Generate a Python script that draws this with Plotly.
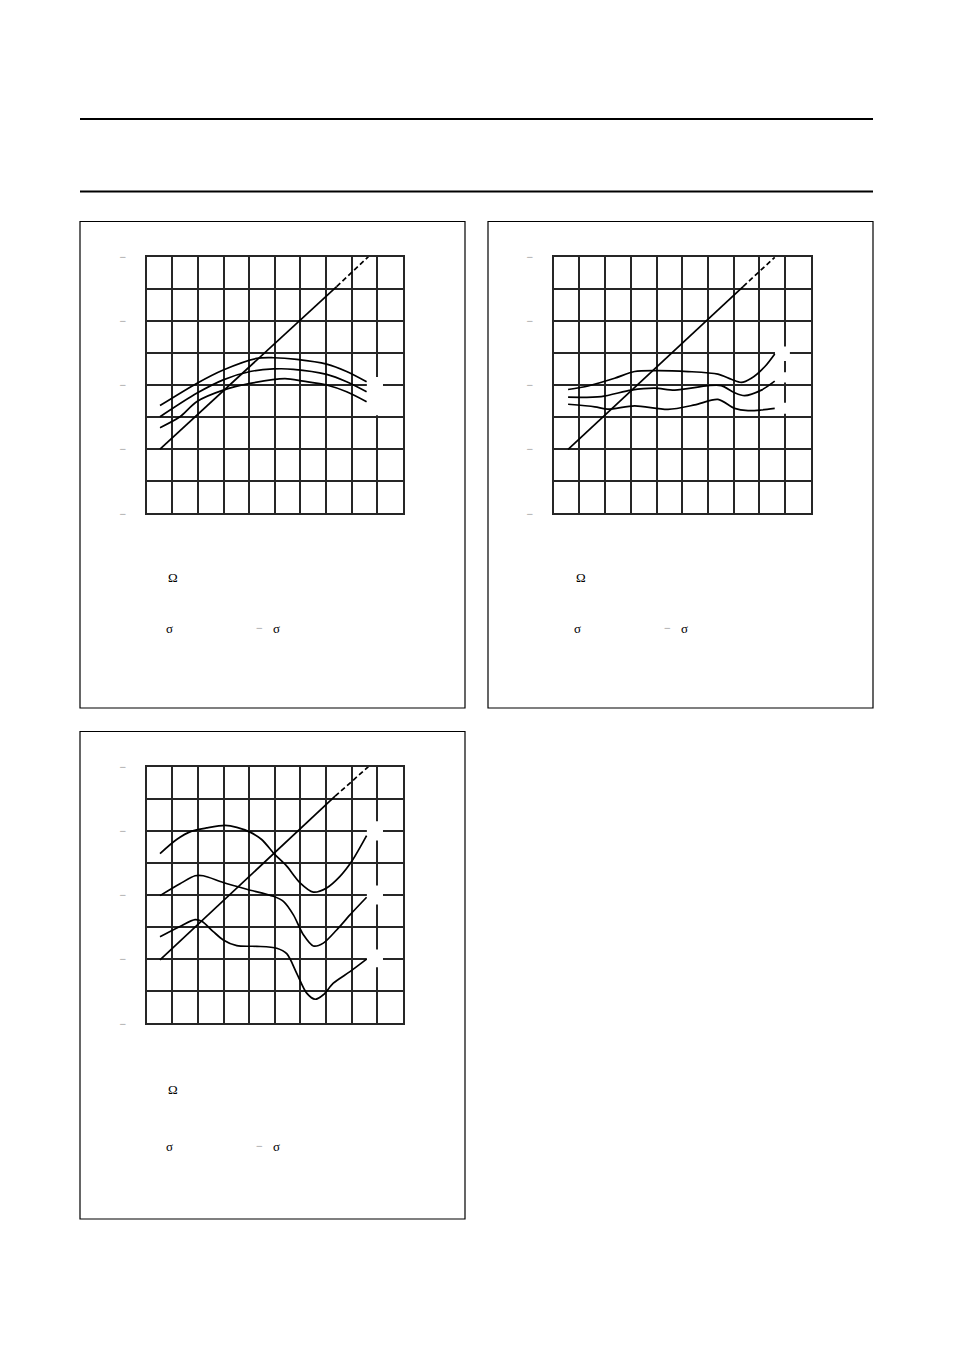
import plotly.graph_objects as go

W, H = 954, 1350

# ---------------- data (grid units: x 0..10, y 0..8) ----------------
# Panel 1
p1_diag_solid_x = [0.52, 7.42]
p1_diag_solid_y = [2.00, 7.07]
p1_diag_dash_x = [7.42, 8.66]
p1_diag_dash_y = [7.07, 8.00]
p1_top_x = [0.52, 1.95, 2.99, 4.30, 4.95, 5.86, 7.03, 7.81, 8.59]
p1_top_y = [3.36, 4.05, 4.47, 4.83, 4.85, 4.80, 4.65, 4.42, 4.10]
p1_mid_x = [0.52, 1.95, 2.99, 4.04, 4.95, 5.73, 7.03, 7.81, 8.59]
p1_mid_y = [3.01, 3.74, 4.16, 4.42, 4.50, 4.49, 4.33, 4.10, 3.79]
p1_bot_x = [0.52, 1.30, 1.95, 2.99, 4.04, 5.40, 6.12, 7.03, 7.81, 8.59]
p1_bot_y = [2.67, 3.01, 3.48, 3.84, 4.05, 4.20, 4.12, 4.00, 3.79, 3.48]

# Panel 2
p2_diag_solid_x = [0.56, 7.37]
p2_diag_solid_y = [1.99, 7.07]
p2_diag_dash_x = [7.37, 8.60]
p2_diag_dash_y = [7.07, 7.98]
p2_top_x = [0.56, 1.34, 2.37, 3.15, 3.93, 5.23, 6.39, 6.91, 7.30, 7.69, 8.21, 8.60]
p2_top_y = [3.86, 3.97, 4.21, 4.42, 4.45, 4.42, 4.34, 4.18, 4.08, 4.21, 4.57, 4.97]
p2_mid_x = [0.56, 1.85, 3.02, 3.93, 4.71, 6.01, 6.52, 7.04, 7.43, 8.08, 8.60]
p2_mid_y = [3.62, 3.64, 3.84, 3.90, 3.84, 3.98, 3.98, 3.76, 3.67, 3.84, 4.12]
p2_bot_x = [0.56, 1.60, 2.11, 3.15, 4.45, 5.49, 6.39, 7.04, 7.56, 8.08, 8.60]
p2_bot_y = [3.40, 3.32, 3.25, 3.35, 3.24, 3.38, 3.55, 3.27, 3.20, 3.22, 3.27]

# Panel 3
p3_diag_solid_x = [0.52, 7.36]
p3_diag_solid_y = [1.98, 7.08]
p3_diag_dash_x = [7.36, 8.66]
p3_diag_dash_y = [7.08, 8.00]
p3_top_x = [0.52, 1.17, 1.76, 2.34, 3.06, 3.52, 4.04, 4.49, 5.01, 5.47, 5.99, 6.51, 7.03, 7.55, 8.01, 8.59]
p3_top_y = [5.29, 5.73, 5.99, 6.09, 6.17, 6.11, 5.96, 5.73, 5.26, 4.90, 4.38, 4.09, 4.22, 4.58, 5.05, 5.85]
p3_mid_x = [0.52, 1.30, 1.89, 2.21, 2.99, 3.91, 4.95, 5.34, 5.73, 6.12, 6.51, 6.90, 7.42, 7.94, 8.59]
p3_mid_y = [3.98, 4.35, 4.60, 4.60, 4.39, 4.18, 3.96, 3.80, 3.38, 2.76, 2.41, 2.50, 2.91, 3.38, 3.93]
p3_bot_x = [0.52, 1.30, 1.89, 2.15, 2.60, 2.99, 3.52, 4.30, 5.08, 5.47, 5.86, 6.25, 6.58, 6.90, 7.29, 7.94, 8.59]
p3_bot_y = [2.70, 3.02, 3.23, 3.18, 2.86, 2.60, 2.42, 2.40, 2.34, 2.17, 1.56, 0.94, 0.75, 0.89, 1.25, 1.61, 2.00]

y_tickvals = [0, 1, 2, 3, 4, 5, 6, 7, 8]
y_ticktext = ["\u2212", "", "\u2212", "", "\u2212", "", "\u2212", "", "\u2212"]

# label boxes (white patches at curve ends): (x0, x1, y0, y1) in grid units
p1_boxes = [(8.6, 9.23, 3.06, 4.25)]
p2_boxes = [(8.61, 9.19, 4.75, 5.2), (8.61, 9.19, 4.08, 4.4), (8.61, 9.19, 3.1, 3.45)]
p3_boxes = [(8.6, 9.23, 5.7, 6.3), (8.6, 9.23, 3.7, 4.3), (8.6, 9.23, 1.75, 2.3)]

# ---------------- layout helpers ----------------
def px_x(p):
    return p / W

def px_y(p):
    return 1 - p / H

panels = [
    # (axis suffix, x_left_px, x_right_px, y_top_px, y_bot_px)
    ("", 146.7, 402.7, 256.7, 513.3),
    ("2", 553.7, 810.7, 256.7, 513.3),
    ("3", 146.7, 402.7, 766.7, 1023.3),
]

fig = go.Figure()

line_w = 1.7
data_sets = [
    (p1_diag_solid_x, p1_diag_solid_y, p1_diag_dash_x, p1_diag_dash_y,
     [(p1_top_x, p1_top_y), (p1_mid_x, p1_mid_y), (p1_bot_x, p1_bot_y)]),
    (p2_diag_solid_x, p2_diag_solid_y, p2_diag_dash_x, p2_diag_dash_y,
     [(p2_top_x, p2_top_y), (p2_mid_x, p2_mid_y), (p2_bot_x, p2_bot_y)]),
    (p3_diag_solid_x, p3_diag_solid_y, p3_diag_dash_x, p3_diag_dash_y,
     [(p3_top_x, p3_top_y), (p3_mid_x, p3_mid_y), (p3_bot_x, p3_bot_y)]),
]

for (suf, xl, xr, yt, yb), (dsx, dsy, ddx, ddy, curves) in zip(panels, data_sets):
    xa = "x" + suf
    ya = "y" + suf
    fig.add_trace(go.Scatter(x=dsx, y=dsy, mode="lines", xaxis=xa, yaxis=ya,
                             line=dict(color="black", width=line_w), showlegend=False,
                             hoverinfo="skip"))
    fig.add_trace(go.Scatter(x=ddx, y=ddy, mode="lines", xaxis=xa, yaxis=ya,
                             line=dict(color="black", width=line_w, dash="5px,3px"),
                             showlegend=False, hoverinfo="skip"))
    for cx, cy in curves:
        fig.add_trace(go.Scatter(x=cx, y=cy, mode="lines", xaxis=xa, yaxis=ya,
                                 line=dict(color="black", width=line_w, shape="spline",
                                           smoothing=0.8),
                                 showlegend=False, hoverinfo="skip"))
    axis_common = dict(showgrid=True, gridcolor="#262626", gridwidth=2,
                       showline=True, mirror=True, linecolor="#262626", linewidth=2,
                       zeroline=False, ticks="", fixedrange=True, automargin=False)
    fig.update_layout(**{
        ("xaxis" + suf): dict(domain=[px_x(xl), px_x(xr)], range=[0, 10], dtick=1,
                              showticklabels=False, anchor=ya, **axis_common),
        ("yaxis" + suf): dict(domain=[px_y(yb), px_y(yt)], range=[0, 8],
                              tickvals=y_tickvals, ticktext=y_ticktext,
                              tickfont=dict(color="#8c8c8c", size=12,
                                            family="Liberation Serif"),
                              ticklabelstandoff=16, anchor=xa, **axis_common),
    })

shapes = []
# white label patches
for suf, boxes in (("", p1_boxes), ("2", p2_boxes), ("3", p3_boxes)):
    for x0, x1, y0, y1 in boxes:
        shapes.append(dict(type="rect", xref="x" + suf, yref="y" + suf,
                           x0=x0, x1=x1, y0=y0, y1=y1,
                           fillcolor="white", line=dict(width=0), layer="between"))

# panel frames
for x0, x1, y0, y1 in ((80, 465, 221.5, 708), (488, 873, 221.5, 708), (80, 465, 731.5, 1219)):
    shapes.append(dict(type="rect", xref="paper", yref="paper",
                       x0=px_x(x0), x1=px_x(x1), y0=px_y(y1), y1=px_y(y0),
                       line=dict(color="black", width=1.2), fillcolor="rgba(0,0,0,0)"))
# header rules
for yy in (119, 191.5):
    shapes.append(dict(type="line", xref="paper", yref="paper",
                       x0=px_x(80), x1=px_x(873), y0=px_y(yy), y1=px_y(yy),
                       line=dict(color="black", width=2)))

annotations = []
sym_font = dict(family="Liberation Serif", size=13, color="black")
for dx, dy in ((0, 0), (408, 0), (0, 508)):
    annotations += [
        dict(text="\u03a9", x=px_x(172.5 + dx), y=px_y(577 + dy + (4 if dy else 0)),
             xref="paper", yref="paper", showarrow=False, font=sym_font,
             xanchor="center", yanchor="middle"),
        dict(text="\u03c3", x=px_x(169.5 + dx), y=px_y(628 + dy + (10 if dy else 0)),
             xref="paper", yref="paper", showarrow=False, font=sym_font,
             xanchor="center", yanchor="middle"),
        dict(text="\u2212", x=px_x(259.5 + dx), y=px_y(628 + dy + (10 if dy else 0)),
             xref="paper", yref="paper", showarrow=False,
             font=dict(family="Liberation Serif", size=12, color="#8c8c8c"),
             xanchor="center", yanchor="middle"),
        dict(text="\u03c3", x=px_x(276 + dx), y=px_y(628 + dy + (10 if dy else 0)),
             xref="paper", yref="paper", showarrow=False, font=sym_font,
             xanchor="center", yanchor="middle"),
    ]

fig.update_layout(width=W, height=H,
                  margin=dict(l=0, r=0, t=0, b=0, pad=0, autoexpand=False),
                  paper_bgcolor="white", plot_bgcolor="white",
                  shapes=shapes, annotations=annotations, showlegend=False)

fig.write_html("out.html", config=dict(displayModeBar=False, staticPlot=True),
               post_script="document.body.style.margin='0px';"
                           "document.body.style.padding='0px';"
                           "document.documentElement.style.overflow='hidden';")
